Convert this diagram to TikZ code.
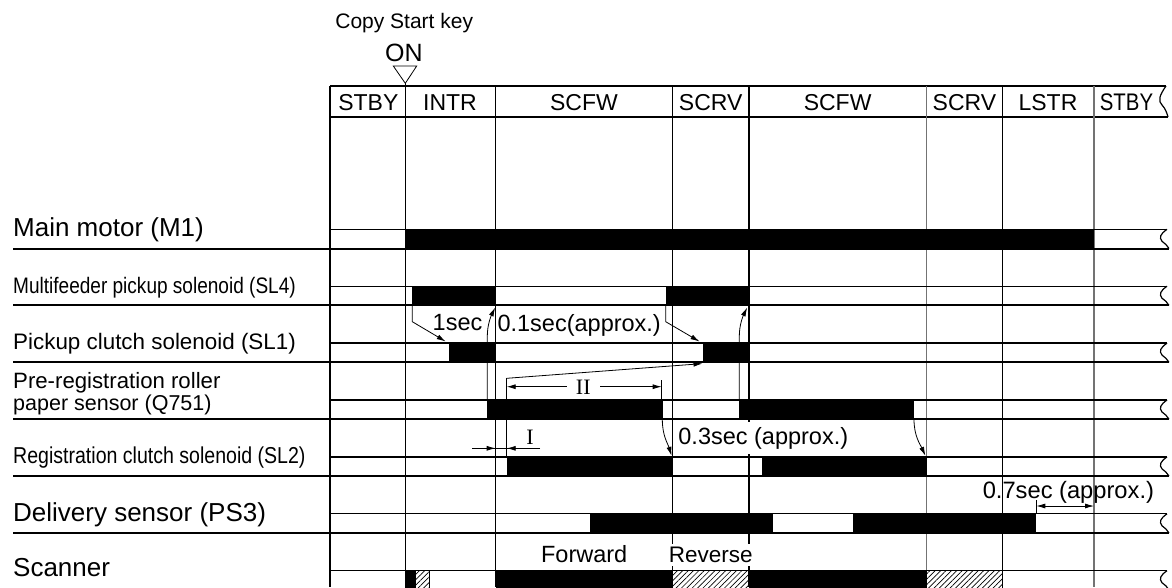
\documentclass[tikz,border=0pt]{standalone}
\usepackage{fontspec}
\setmainfont{Liberation Sans}
\newfontfamily\narrowf[FakeStretch=0.85]{Liberation Sans}
\newfontfamily\romanf{Liberation Serif}
\usetikzlibrary{arrows.meta,patterns.meta}
\begin{document}
\begin{tikzpicture}[x=1pt,y=-1pt,
  gridk/.style={line width=1pt,black},
  gridg/.style={line width=1.2pt,black!55},
  gridthick/.style={line width=2pt,black},
  bandtop/.style={line width=1.3pt},
  bandbot/.style={line width=2pt},
  wavy/.style={line width=1.2pt},
  blk/.style={fill=black},
  hatchbox/.style={draw=black,line width=0.6pt,pattern={Lines[angle=45,distance=3.8pt,line width=0.7pt]}},
  conn/.style={line width=0.8pt},
  tipa/.style={-{Latex[length=9pt,width=5pt]}},
  tipb/.style={{Latex[length=9pt,width=5pt]}-{Latex[length=9pt,width=5pt]}},
  lbl/.style={anchor=base west,inner sep=0pt},
  hdr/.style={anchor=base,inner sep=0pt,font=\fontsize{23}{26}\selectfont},
  tm/.style={anchor=base,inner sep=0pt,font=\fontsize{23.5}{26}\selectfont},
  tmw/.style={tm,fill=white,inner sep=2pt},
  rom/.style={inner sep=0pt,font=\romanf\fontsize{22}{24}\selectfont},
]
\useasboundingbox (0,0) rectangle (1172,587);
\clip (0,0) rectangle (1172,587);

% ---- header ----
\node[anchor=base,inner sep=0pt,font=\fontsize{21}{24}\selectfont] (copy) at (404.2,28.3) {Copy Start key};
\node[anchor=base,inner sep=0pt,font=\fontsize{25}{28}\selectfont] (on) at (403.8,61) {ON};
\draw[line width=0.8pt] (393.3,66) -- (416.7,66) -- (405.3,83.3) -- cycle;

\draw[line width=2pt] (330,86) -- (1166,86);
\draw[line width=2pt] (330,117) -- (1168,117);
\draw[wavy] (1166,86) .. controls (1159,96) and (1158,101) .. (1162,105) .. controls (1165,108) and (1167,113) .. (1168,117);

% ---- vertical grid ----
\draw[line width=2pt] (330,86) -- (330,587);
\draw[gridk] (405.3,83.3) -- (405.3,587);
\draw[gridk] (495.7,86) -- (495.7,587);
\draw[gridk] (672.6,86) -- (672.6,587);
\draw[gridthick] (748.8,86) -- (748.8,587);
\draw[gridg] (926.5,86) -- (926.5,587);
\draw[gridk] (1002.3,86) -- (1002.3,587);
\draw[gridg] (1094,86) -- (1094,587);

% header labels
\node[hdr] (h1) at (368.3,110) {STBY};
\node[hdr] (h2) at (450,110) {INTR};
\node[hdr] (h3) at (584,110) {SCFW};
\node[hdr] (h4) at (710.7,110) {SCRV};
\node[hdr] (h5) at (837.6,110) {SCFW};
\node[hdr] (h6) at (964.4,110) {SCRV};
\node[hdr] (h7) at (1048,110) {LSTR};
\node[anchor=base,inner sep=0pt,font=\narrowf\fontsize{24}{26}\selectfont] (h8) at (1126.5,110) {STBY};

% ---- bands ----
\foreach \k in {0,...,6} {
  \pgfmathsetmacro\t{229.3+56.9*\k}
  \pgfmathsetmacro\b{\t+19.2}
  \draw[bandtop] (330,\t) -- (1167,\t);
  \draw[bandbot] (13,\b) -- (1169,\b);
  \draw[wavy] (1167,\t) .. controls (1160,\t+5) and (1159,\t+8) .. (1162,\t+12) .. controls (1165,\t+14) and (1167,\t+16) .. (1169,\b);
}

% ---- signal blocks ----
% Main motor
\fill[blk] (405.3,229.3) rectangle (1094,248.5);
% SL4
\fill[blk] (412.3,286.2) rectangle (495.7,305.4);
\fill[blk] (665.7,286.2) rectangle (748.8,305.4);
% SL1
\fill[blk] (449.3,343.1) rectangle (495.7,362.3);
\fill[blk] (703.3,343.1) rectangle (748.8,362.3);
% Q751
\fill[blk] (487.3,400) rectangle (662.5,419.2);
\fill[blk] (739.3,400) rectangle (914,419.2);
% SL2
\fill[blk] (506.7,456.9) rectangle (672.7,476.1);
\fill[blk] (761.7,456.9) rectangle (926.5,476.1);
% PS3
\fill[blk] (590,513.8) rectangle (772.7,533);
\fill[blk] (852.5,513.8) rectangle (1036.3,533);
% Scanner
\fill[blk] (405.3,570.7) rectangle (415.2,590);
\path[hatchbox] (415.2,570.7) rectangle (429.4,590);
\fill[blk] (495.7,570.7) rectangle (672.7,590);
\path[hatchbox] (672.7,570.7) rectangle (748.8,590);
\fill[blk] (748.8,570.7) rectangle (926.5,590);
\path[hatchbox] (926.5,570.7) rectangle (1002.3,590);

% ---- row labels ----
\node[lbl,font=\fontsize{26}{30}\selectfont] (mm) at (13,236.7) {Main motor (M1)};
\node[lbl,font=\narrowf\fontsize{22.4}{26}\selectfont] (sl4) at (13,293.3) {Multifeeder pickup solenoid (SL4)};
\node[lbl,font=\fontsize{22.4}{26}\selectfont] (sl1) at (13,349.5) {Pickup clutch solenoid (SL1)};
\node[lbl,font=\fontsize{22.2}{26}\selectfont] (q1) at (13,388.3) {Pre-registration roller};
\node[lbl,font=\fontsize{21.5}{26}\selectfont] (q2) at (13,410) {paper sensor (Q751)};
\node[lbl,font=\narrowf\fontsize{23}{26}\selectfont] (sl2) at (13,463.3) {Registration clutch solenoid (SL2)};
\node[lbl,font=\fontsize{26}{30}\selectfont] (ps3) at (13,521.7) {Delivery sensor (PS3)};
\node[lbl,font=\fontsize{26}{30}\selectfont] (scn) at (13,576.7) {Scanner};

% ---- timing connectors ----
\coordinate (a1s) at (412.3,305.4); \coordinate (a1k) at (412.3,321.7); \coordinate (a1e) at (445.7,341.5);
\draw[conn,tipa] (a1s) -- (a1k) -- (a1e);
\coordinate (a2s) at (665.7,305.4); \coordinate (a2k) at (665.7,321.7); \coordinate (a2e) at (699.5,341.5);
\draw[conn,tipa] (a2s) -- (a2k) -- (a2e);

\coordinate (b1s) at (487.3,400); \coordinate (b1e) at (495.2,307.5);
\draw[conn,tipa] (b1s) -- (487.3,336) .. controls (487.3,325) and (491,316) .. (b1e);
\coordinate (b2s) at (739.3,400); \coordinate (b2e) at (747.2,307.5);
\draw[conn,tipa] (b2s) -- (739.3,336) .. controls (739.3,325) and (743,316) .. (b2e);

\coordinate (r0) at (506.7,456.9); \coordinate (r1) at (506.7,378.3); \coordinate (r2) at (702.5,363.6);
\draw[conn] (r0) -- (r1);
\draw[conn,tipa] (r1) -- (r2);

% dimension II
\coordinate (d2a) at (506.7,386.7); \coordinate (d2b) at (661.7,386.7);
\draw[conn] (661.7,400) -- (661.7,380);
\draw[conn,tipb] (d2a) -- (d2b);
\node[rom,fill=white,inner xsep=9pt,inner ysep=1pt] (II) at (583.3,387.5) {II};

% dimension I
\coordinate (d1a) at (472,448.3); \coordinate (d1b) at (540,448.3);
\draw[conn] (d1a) -- (d1b);
\draw[conn,tipa] (d1a) -- (495.7,448.3);
\draw[conn,tipa] (d1b) -- (506.7,448.3);
\node[rom] (I) at (530,437.5) {I};

% 0.3 sec arrows
\coordinate (c1s) at (662.3,419.2); \coordinate (c1e) at (671.6,455.8);
\draw[conn,tipa] (c1s) .. controls (662.3,436) and (668,444) .. (c1e);
\coordinate (c2s) at (914,419.2); \coordinate (c2e) at (925.4,455.8);
\draw[conn,tipa] (c2s) .. controls (914,436) and (920,444) .. (c2e);

% 0.7 sec
\coordinate (e1) at (1036.3,506); \coordinate (e2) at (1094,506);
\draw[conn] (1036.3,500) -- (1036.3,513.8);
\draw[conn,tipb] (e1) -- (e2);

% ---- timing labels ----
\node[tm] (t1) at (457.5,330) {1sec};
\node[tm] (t2) at (579.2,331) {0.1sec(approx.)};
\node[tmw,inner xsep=2pt,inner ysep=5pt] (t3) at (763.3,444.3) {0.3sec (approx.)};
\node[tm,font=\fontsize{23.7}{26}\selectfont] (t4) at (1068.4,498.3) {0.7sec (approx.)};
\node[tm] (fw) at (584.2,562.7) {Forward};
\node[tmw,inner sep=3pt,font=\fontsize{22.5}{26}\selectfont] (rv) at (710.8,562.7) {Reverse};
\end{tikzpicture}
\end{document}
